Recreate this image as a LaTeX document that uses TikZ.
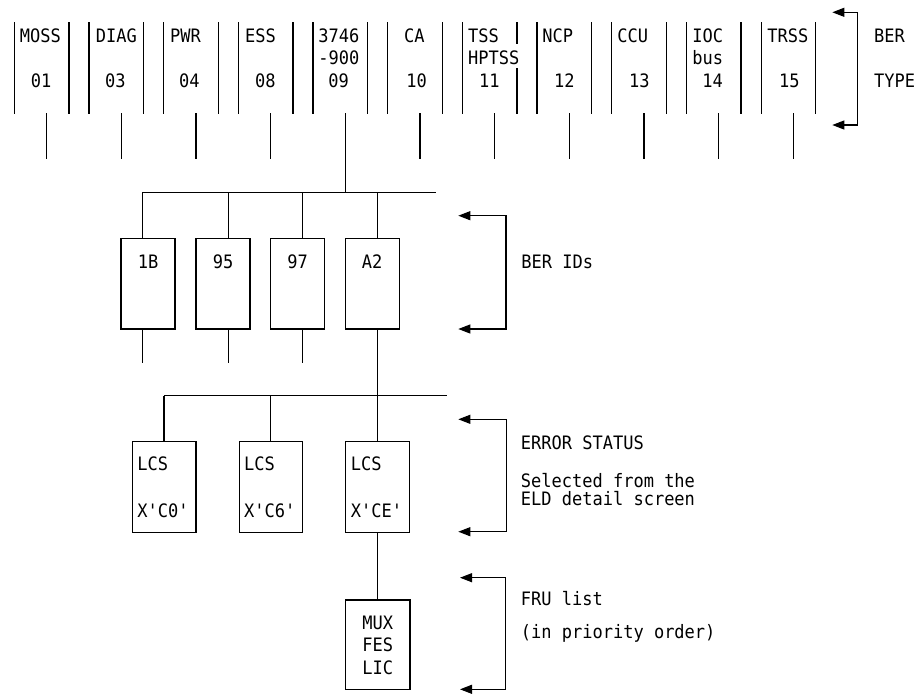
\documentclass[tikz,border=0pt]{standalone}
\usepackage{fontspec}
\setmonofont[FakeStretch=0.92]{DejaVu Sans Mono}
\usetikzlibrary{arrows.meta}
\newcommand\dmono{\ttfamily\fontsize{18.5}{20}\selectfont}
\begin{document}
\begin{tikzpicture}[x=1pt,y=-1pt,line width=1.2pt,
  lbl/.style={anchor=base west,inner sep=0pt,font=\dmono},
  clbl/.style={anchor=base,inner sep=0pt,font=\dmono},
  colside/.style={draw=none,minimum width=53.3pt,minimum height=90pt,inner sep=0pt},
  boxnode/.style={draw,inner sep=0pt},
  idbox/.style={boxnode,minimum width=54pt,minimum height=90.7pt},
  lcsbox/.style={boxnode,minimum width=63.7pt,minimum height=90.6pt},
  brk/.style={{Triangle[length=12pt,width=9pt]}-{Triangle[length=12pt,width=9pt]},line width=1.1pt}]
\useasboundingbox (0,0) rectangle (920,694);

% ---- BER type columns ----
\foreach \i in {0,...,10} {
  \node[colside] (col\i) at ({41.65+74.67*\i},68) {};
  \coordinate (d\i) at ({46.7+74.67*\i},113);
  \coordinate (e\i) at ({46.7+74.67*\i},159);
}
\foreach \i in {0,...,10} \draw (col\i.north west) -- (col\i.south west);
\foreach \i in {0,1,2,3,4,5,7,8,9,10} \draw (col\i.north east) -- (col\i.south east);
\draw (col6.north east) -- ++(0,22);
\draw (col6.south east) -- ++(0,-46);
\foreach \i in {0,1,2,3,5,6,7,8,9,10} \draw (d\i) -- (e\i);

\node[lbl] (tMOSS) at (19.2,42) {MOSS};   \node[lbl] (n01) at (30.2,87) {01};
\node[lbl] (tDIAG) at (95.2,42) {DIAG};   \node[lbl] (n03) at (104.5,87) {03};
\node[lbl] (tPWR) at (169.5,42) {PWR};    \node[lbl] (n04) at (178.5,87) {04};
\node[lbl] (tESS) at (244.5,42) {ESS};    \node[lbl] (n08) at (254.5,87) {08};
\node[lbl] (t3746) at (317.8,42) {3746};  \node[lbl] (t900) at (317.8,64.3) {-900};
\node[lbl] (n09) at (327.8,87) {09};
\node[lbl] (tCA) at (403.5,42) {CA};      \node[lbl] (n10) at (405.8,87) {10};
\node[lbl] (tTSS) at (467.5,42) {TSS};    \node[lbl] (tHPTSS) at (467.5,64.3) {HPTSS};
\node[lbl] (n11) at (478.5,87) {11};
\node[lbl] (tNCP) at (541.8,42) {NCP};    \node[lbl] (n12) at (553.5,87) {12};
\node[lbl] (tCCU) at (616.8,42) {CCU};    \node[lbl] (n13) at (628.5,87) {13};
\node[lbl] (tIOC) at (691.8,42) {IOC};    \node[lbl] (tbus) at (691.8,64.3) {bus};
\node[lbl] (n14) at (701.8,87) {14};
\node[lbl] (tTRSS) at (766.8,42) {TRSS};  \node[lbl] (n15) at (778.5,87) {15};

% BER TYPE bracket
\coordinate (a1) at (832.3,12.3); \coordinate (a2) at (857.7,12.3);
\coordinate (a3) at (857.7,125);  \coordinate (a4) at (832.3,125);
\draw[brk] (a1) -- (a2) -- (a3) -- (a4);
\node[lbl] (tBER) at (873.5,42) {BER};
\node[lbl] (tTYPE) at (873.5,87) {TYPE};

% ---- bus 1 and BER IDs ----
\coordinate (b1L) at (142.3,192.7); \coordinate (b1R) at (436,192.7);
\draw (b1L) -- (b1R);
\draw (d4) -- (d4 |- b1L);

\node[idbox] (id1B) at (148,283.65) {};
\node[idbox] (id95) at (223,283.65) {};
\node[idbox] (id97) at (297.5,283.65) {};
\node[idbox] (idA2) at (372.15,283.65) {};
\node[clbl] (t1B) at (148,268.3) {1B};
\node[clbl] (t95) at (223,268.3) {95};
\node[clbl] (t97) at (297.5,268.3) {97};
\node[clbl] (tA2) at (372.15,268.3) {A2};

\coordinate (k1B) at (142.3,192.7); \coordinate (k95) at (228.3,192.7);
\coordinate (k97) at (302.7,192.7); \coordinate (kA2) at (377.3,192.7);
\foreach \k/\b in {k1B/id1B,k95/id95,k97/id97,kA2/idA2}
  \draw (\k) -- (\k |- \b.north);
\foreach \k/\b in {k1B/id1B,k95/id95,k97/id97}
  \draw (\k |- \b.south) -- ++(0,33.3);

\coordinate (m1) at (458.3,215.7); \coordinate (m2) at (506,215.7);
\coordinate (m3) at (506,329);     \coordinate (m4) at (458.3,329);
\draw[brk] (m1) -- (m2) -- (m3) -- (m4);
\node[lbl] (tBERID) at (520.8,268.3) {BER IDs};

% ---- bus 2 and error status ----
\coordinate (b2L) at (164,395.7); \coordinate (b2R) at (447.3,395.7);
\draw (b2L) -- (b2R);
\draw (kA2 |- idA2.south) -- (kA2 |- b2L);

\node[lcsbox] (lcs1) at (164.15,487) {};
\node[lcsbox] (lcs2) at (271,487) {};
\node[lcsbox] (lcs3) at (377.5,487) {};
\coordinate (kc1) at (164,395.7); \coordinate (kc2) at (270.7,395.7);
\coordinate (kc3) at (377.3,395.7);
\foreach \k/\b in {kc1/lcs1,kc2/lcs2,kc3/lcs3}
  \draw (\k) -- (\k |- \b.north);

\node[lbl] (l1a) at (136.8,470.7) {LCS}; \node[lbl] (l1b) at (136.8,517.3) {X'C0'};
\node[lbl] (l2a) at (243.5,470.7) {LCS}; \node[lbl] (l2b) at (243.5,517.3) {X'C6'};
\node[lbl] (l3a) at (350.2,470.7) {LCS}; \node[lbl] (l3b) at (350.2,517.3) {X'CE'};

\coordinate (p1) at (458.3,419.3); \coordinate (p2) at (506.7,419.3);
\coordinate (p3) at (506.7,531.7); \coordinate (p4) at (458.3,531.7);
\draw[brk] (p1) -- (p2) -- (p3) -- (p4);
\node[lbl] (tERR) at (520.2,449) {ERROR STATUS};
\node[lbl] (tSEL) at (520.2,487.7) {Selected from the};
\node[lbl] (tELD) at (520.2,505) {ELD detail screen};

% ---- FRU list ----
\node[boxnode,minimum width=64.3pt,minimum height=89.3pt] (fru) at (377.85,644.65) {};
\draw (kc3 |- lcs3.south) -- (kc3 |- fru.north);
\node[clbl] (tMUX) at (377.85,629.3) {MUX};
\node[clbl] (tFES) at (377.85,651.7) {FES};
\node[clbl] (tLIC) at (377.85,674) {LIC};

\coordinate (q1) at (460,577.7); \coordinate (q2) at (505.7,577.7);
\coordinate (q3) at (505.7,689.3); \coordinate (q4) at (460,689.3);
\draw[brk] (q1) -- (q2) -- (q3) -- (q4);
\node[lbl] (tFRU) at (520.2,605) {FRU list};
\node[lbl] (tPRI) at (520.2,638.3) {(in priority order)};
\end{tikzpicture}
\end{document}
